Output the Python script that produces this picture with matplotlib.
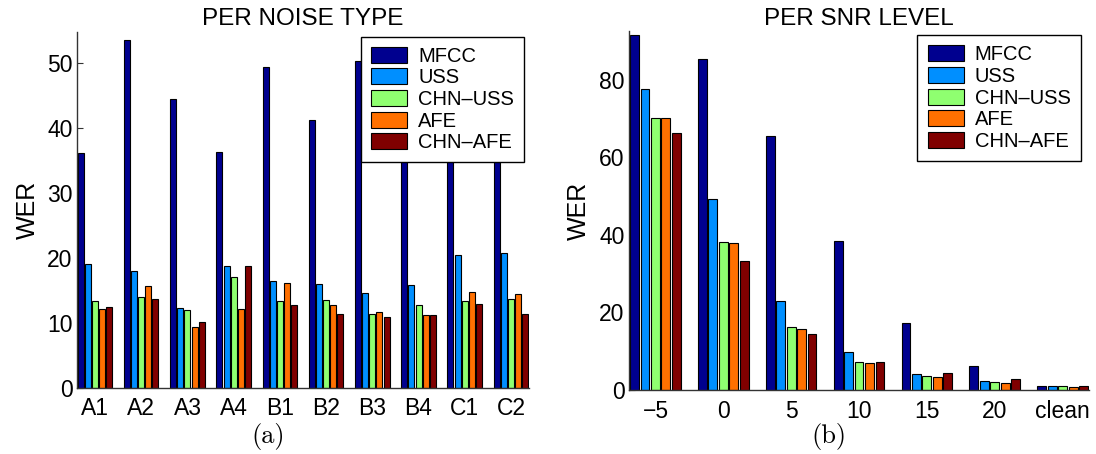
import numpy as np
import matplotlib
matplotlib.use("Agg")
import matplotlib.pyplot as plt

# series names and colours (MATLAB jet(5) bar colours)
methods = ["MFCC", "USS", "CHN\u2013USS", "AFE", "CHN\u2013AFE"]
colors = ["#00008f", "#008fff", "#8fff70", "#ff7000", "#800000"]

# left panel: WER per noise type
noise_types = ["A1", "A2", "A3", "A4", "B1", "B2", "B3", "B4", "C1", "C2"]
noise_mfcc = [36.1, 53.5, 44.5, 36.3, 49.3, 41.2, 50.3, 47.0, 50.0, 45.0]  # B4, C1, C2 hidden by legend
noise_uss = [19.1, 17.9, 12.2, 18.7, 16.4, 15.9, 14.6, 15.8, 20.5, 20.8]
noise_chn_uss = [13.3, 14.0, 11.9, 17.1, 13.4, 13.5, 11.3, 12.8, 13.3, 13.6]
noise_afe = [12.1, 15.6, 9.3, 12.1, 16.1, 12.8, 11.7, 11.2, 14.7, 14.5]
noise_chn_afe = [12.4, 13.6, 10.1, 18.8, 12.8, 11.4, 10.9, 11.2, 12.9, 11.4]

# right panel: WER per SNR level
snr_levels = ["\u22125", "0", "5", "10", "15", "20", "clean"]
snr_mfcc = [91.6, 85.2, 65.5, 38.5, 17.2, 6.1, 0.9]
snr_uss = [77.5, 49.3, 23.0, 9.9, 4.2, 2.2, 0.9]
snr_chn_uss = [70.0, 38.2, 16.2, 7.2, 3.5, 2.0, 1.1]
snr_afe = [70.0, 38.0, 15.7, 7.0, 3.4, 1.8, 0.7]
snr_chn_afe = [66.2, 33.2, 14.4, 7.3, 4.4, 2.9, 0.9]

plt.rcParams["font.family"] = ["Liberation Sans", "DejaVu Sans"]

fig = plt.figure(figsize=(10.96, 4.54), dpi=100)
ax_left = fig.add_axes([0.0705, 0.146, 0.4119, 0.7841])
ax_right = fig.add_axes([0.5742, 0.141, 0.4192, 0.7907])

slot = 0.154
bar_w = 0.13


def grouped_bars(ax, labels, series, ylim, yticks, title, legend_anchor):
    x = np.arange(len(labels))
    for k, (vals, name) in enumerate(zip(series, methods)):
        ax.bar(x + (k - 2) * slot, vals, width=bar_w, color=colors[k],
               edgecolor="black", linewidth=0.8, label=name, zorder=2)
    ax.set_xlim(-0.385, len(labels) - 1 + 0.385)
    ax.set_ylim(*ylim)
    ax.set_xticks(x)
    ax.set_xticklabels(labels)
    ax.set_yticks(yticks)
    ax.tick_params(axis="both", direction="in", labelsize=16.5, length=4, color="#333333")
    ax.tick_params(axis="x", pad=7, length=0)
    ax.tick_params(axis="y", pad=3.5)
    for side in ["top", "right"]:
        ax.spines[side].set_visible(False)
    for side in ["left", "bottom"]:
        ax.spines[side].set_color("#333333")
        ax.spines[side].set_linewidth(1.0)
        ax.spines[side].set_zorder(3)
    ax.set_title(title, fontsize=17.5, pad=4.5)
    ax.set_ylabel("WER", fontsize=18)
    ax.yaxis.set_label_coords(-0.083, 0.5)
    leg = ax.legend(loc="upper right", bbox_to_anchor=legend_anchor, borderaxespad=0,
                    fontsize=14.5, fancybox=False, framealpha=1, edgecolor="black",
                    handlelength=1.8, handleheight=0.85, handletextpad=0.55,
                    labelspacing=0.13, borderpad=0.5)
    leg.get_frame().set_linewidth(1.0)
    leg.set_zorder(5)


grouped_bars(ax_left, noise_types,
             [noise_mfcc, noise_uss, noise_chn_uss, noise_afe, noise_chn_afe],
             (0, 54.8), [0, 10, 20, 30, 40, 50], "PER NOISE TYPE", (0.9896, 0.986))
grouped_bars(ax_right, snr_levels,
             [snr_mfcc, snr_uss, snr_chn_uss, snr_afe, snr_chn_afe],
             (0, 92.5), [0, 20, 40, 60, 80], "PER SNR LEVEL", (0.9826, 0.988))

# sub-figure captions
fig.text(268 / 1096, 1 - 437 / 454, "(a)", family="cmr10", fontsize=19, ha="center", va="center")
fig.text(829 / 1096, 1 - 437 / 454, "(b)", family="cmr10", fontsize=19, ha="center", va="center")

fig.savefig("out.png", dpi=100)
